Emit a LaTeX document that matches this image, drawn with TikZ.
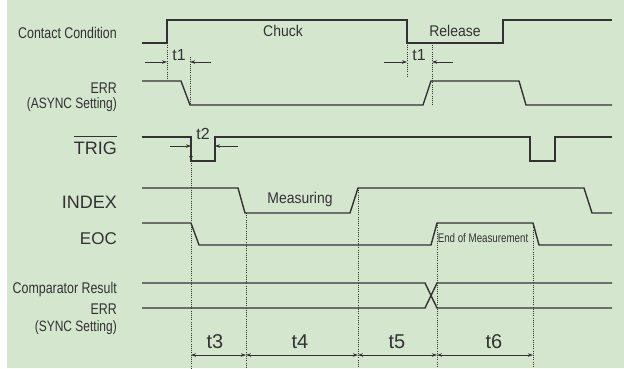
\documentclass[tikz,border=0pt]{standalone}
\usepackage{fontspec}
\setmainfont{Liberation Sans}
\newfontfamily\condfont[FakeStretch=0.8]{Liberation Sans}
\newfontfamily\narrowfont[FakeStretch=0.78]{Liberation Sans}
\newfontfamily\semifont[FakeStretch=0.9]{Liberation Sans}
\usepackage{tikz}
\usetikzlibrary{positioning, arrows.meta}
\definecolor{bgreen}{RGB}{213,230,206}
\definecolor{wavegray}{RGB}{50,50,50}

\begin{document}
\begin{tikzpicture}[
        x=1pt, y=-1pt,
        wave/.style={draw=wavegray, line width=1.4pt},
        guide/.style={draw=wavegray, line width=0.7pt, dash pattern=on 1pt off 1.2pt},
        dim/.style={draw=wavegray, line width=0.8pt, -{Stealth[length=5pt, width=3.5pt]}},
        span/.style={draw=wavegray, line width=0.8pt, {Stealth[length=5pt, width=3.5pt]}-{Stealth[length=5pt, width=3.5pt]}},
        sig/.style={anchor=base east, inner sep=0pt, text=wavegray, font=\fontsize{18}{20}\selectfont},
        small/.style={anchor=base east, inner sep=0pt, text=wavegray, font=\condfont\fontsize{15.5}{17}\selectfont},
        tag/.style={anchor=base, inner sep=0pt, text=wavegray, font=\semifont\fontsize{15.5}{17}\selectfont},
        tlabel/.style={anchor=base, inner sep=0pt, text=wavegray, font=\fontsize{20}{22}\selectfont}
    ]
    \useasboundingbox (0,0) rectangle (624,368);
    \fill[white] (0,0) rectangle (624,368);
    \fill[bgreen] (7,0) rectangle (624,368);

    \node[small] (contact) at (117,38) {Contact Condition};
    \node[small] (erra) at (117,93) {ERR};
    \node[small, font=\condfont\fontsize{15}{17}\selectfont] (async) at (117,108) {(ASYNC Setting)};
    \node[sig] (trig) at (117,154) {TRIG};
    \draw[wavegray, line width=1pt] ([yshift=5pt]trig.north west) -- ([yshift=5pt]trig.north east);
    \node[sig] (index) at (117,208) {INDEX};
    \node[sig, font=\fontsize{17}{20}\selectfont] (eoc) at (117,244) {EOC};
    \node[small] (comp) at (117,293) {Comparator Result};
    \node[small] (errs) at (117,314) {ERR};
    \node[small, font=\condfont\fontsize{15}{17}\selectfont] (sync) at (117,331) {(SYNC Setting)};

    \node[tag] (chuck) at (283,36) {Chuck};
    \node[tag] (release) at (455,36) {Release};
    \node[tag] (measuring) at (300,203) {Measuring};
    \node[tag, font=\narrowfont\fontsize{12.5}{14}\selectfont] (eom) at (483,242) {End of Measurement};

    \draw[wave] (142,43) -- (167,43) -- (167,20) -- (407,20) -- (407,43) -- (503,43) -- (503,20) -- (612,20);
    \draw[wave] (142,81) -- (181,81) -- (190,105) -- (423,105) -- (431,81) -- (519,81) -- (526,105) -- (612,105);
    \draw[wave] (142,137) -- (191,137) -- (191,161) -- (215,161) -- (215,137) -- (530,137) -- (530,161) -- (555,161) -- (555,137) -- (612,137);
    \draw[wave] (142,188) -- (238,188) -- (245,213) -- (350,213) -- (358,188) -- (584,188) -- (592,213) -- (612,213);
    \draw[wave] (142,223) -- (191,223) -- (199,245) -- (431,245) -- (437,223) -- (533,223) -- (539,245) -- (612,245);
    \draw[wave] (142,283) -- (425,283) -- (437,308) -- (612,308);
    \draw[wave] (142,308) -- (425,308) -- (437,283) -- (612,283);

    \draw[guide] (167,43) -- (167,80);
    \draw[guide] (190,57) -- (190,105);
    \draw[guide] (407,45) -- (407,77);
    \draw[guide] (432,45) -- (432,105);
    \draw[guide] (191,161) -- (191,368);
    \draw[guide] (246,213) -- (246,368);
    \draw[guide] (358,188) -- (358,368);
    \draw[guide] (437,223) -- (437,368);
    \draw[guide] (533,223) -- (533,368);

    \node[tlabel, font=\fontsize{16}{18}\selectfont] (t1a) at (179,60) {t1};
    \draw[dim] (145,62) -- (167,62);
    \draw[dim] (211,62) -- (190,62);
    \node[tlabel, font=\fontsize{16}{18}\selectfont] (t1b) at (419,60) {t1};
    \draw[dim] (384,62) -- (407,62);
    \draw[dim] (453,62) -- (432,62);

    \node[tlabel, font=\fontsize{16}{18}\selectfont] (t2) at (203,139) {t2};
    \draw[dim, line width=0.6pt] (170,146) -- (191,146);
    \draw[dim, line width=0.6pt] (238,146) -- (215,146);
    \draw[dim] (191,146) -- (191,161);

    \node[tlabel] (t3) at (215,348) {t3};
    \node[tlabel] (t4) at (300,348) {t4};
    \node[tlabel] (t5) at (397,348) {t5};
    \node[tlabel] (t6) at (494,348) {t6};
    \draw[span] (191,355) -- (246,355);
    \draw[span] (246,355) -- (358,355);
    \draw[span] (358,355) -- (437,355);
    \draw[span] (437,355) -- (533,355);
\end{tikzpicture}
\end{document}
